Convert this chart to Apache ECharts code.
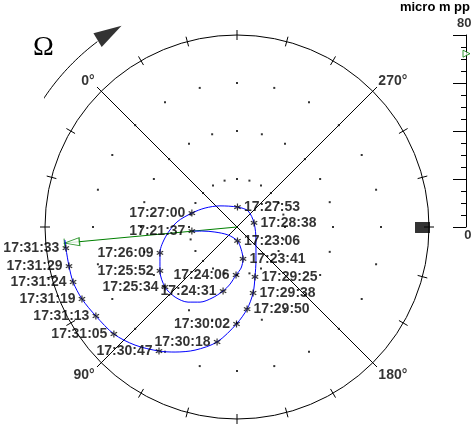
<!DOCTYPE html>
<html><head><meta charset="utf-8">
<script src="https://cdn.jsdelivr.net/npm/echarts@6/dist/echarts.min.js"></script>
<style>html,body{margin:0;padding:0;background:#fff}#c{width:476px;height:431px}</style>
</head><body><div id="c"></div>
<script>
// ---- data (micro m, centre of the orbit plot = 0,0; full scale radius = 80) ----
const orbitX = [-18.8,-14.2,-9.2,-3.8,0.2,1.7,2.5,1.7,-0.4,-2.9,-5.8,-10.4,-15.4,-20.4,-25.8,-30.0,-32.1,-32.1,-29.6,-25.0,-18.8,-13.3,-7.1,0.2,4.6,7.1,7.9,7.9,7.5,6.7,4.2,-0.2,-8.3,-17.5,-25.8,-32.5,-42.5,-51.3,-58.8,-64.6,-68.3,-70.0,-71.3,-71.7];
const orbitY = [-1.7,-1.7,-2.1,-3.3,-5.8,-9.2,-13.3,-17.1,-20.0,-23.8,-26.7,-29.6,-31.3,-31.3,-29.2,-25.0,-18.3,-10.8,-3.8,2.1,5.8,7.9,8.8,8.3,6.7,1.7,-5.4,-13.8,-20.8,-27.5,-34.2,-40.4,-47.9,-51.3,-52.1,-51.7,-49.2,-44.6,-37.1,-30.0,-22.9,-16.3,-8.8,-5.4];
const sampleTimes = ['17:21:37','17:23:06','17:23:41','17:24:06','17:24:31','17:25:34','17:25:52','17:26:09','17:27:00','17:27:53','17:28:38','17:29:25','17:29:38','17:29:50','17:30:02','17:30:18','17:30:47','17:31:05','17:31:13','17:31:19','17:31:24','17:31:29','17:31:33'];
const sampleX = [-18.8,0.2,2.5,-0.4,-5.8,-30.0,-32.1,-32.1,-18.8,0.2,7.1,7.5,6.7,4.2,-0.2,-8.3,-32.5,-51.3,-58.8,-64.6,-68.3,-70.0,-71.3];
const sampleY = [-1.7,-5.8,-13.3,-20.0,-26.7,-25.0,-18.3,-10.8,5.8,8.3,1.7,-20.8,-27.5,-34.2,-40.4,-47.9,-51.7,-44.6,-37.1,-30.0,-22.9,-16.3,-8.8];
const vectorEnd = [-71.9, -6.7];
const keyphasorPos = [77.3, -0.2];
const scaleMax = 80;
const scaleLabels = ['0', '80'];
const phaseLabels = ['0°', '90°', '180°', '270°'];
const ringRadii = [20, 40, 60];
const unitName = 'micro m pp';

// ---- helpers ----
const FONT = '"Liberation Sans", Arial, sans-serif';
const rad = d => d * Math.PI / 180;
const pol = (r, a) => [r * Math.cos(rad(a)), r * Math.sin(rad(a))];

// grid dots every 15 degrees on the rings
const dots = [];
ringRadii.forEach(r => { for (let a = 0; a < 360; a += 15) dots.push([r, a]); });

// phase cross lines (0 deg at upper left, increasing counter-clockwise)
const phaseAng = phaseLabels.map((_, i) => 135 + 90 * i);
const lineLen = 82.5;
const crossA = [pol(lineLen, phaseAng[0]), pol(lineLen, phaseAng[2])];
const crossB = [pol(lineLen, phaseAng[1]), pol(lineLen, phaseAng[3])];
const phaseLabelData = phaseLabels.map((t, i) => {
  const a = phaseAng[i];
  const c = Math.cos(rad(a)), s = Math.sin(rad(a));
  return {
    name: t, value: pol(83, a),
    label: {
      align: c < 0 ? 'right' : 'left',
      verticalAlign: s > 0 ? 'bottom' : 'top',
      position: [c < 0 ? -1 : 1, s > 0 ? 2 : 1]
    }
  };
});

// rotation arrow
const arc = [];
for (let a = 150; a >= 127; a -= 1) arc.push(pol(96.7, a));

// samples
const sampleData = sampleTimes.map((t, i) => ({
  name: t, value: [sampleX[i], sampleY[i]],
  label: { position: sampleX[i] > 0 ? 'right' : 'left' }
}));

// vector arrow
const vAng = Math.atan2(vectorEnd[1], vectorEnd[0]) * 180 / Math.PI;
const vMag = Math.hypot(vectorEnd[0], vectorEnd[1]);
const dirS = [Math.cos(rad(vAng)), -Math.sin(rad(vAng))];
const arrowLen = 15;

const starPath = 'path://M4.2,0L5.8,0L5.8,10L4.2,10Z M0.3,3.3L1.1,1.9L9.7,6.7L8.9,8.1Z M0.3,6.7L1.1,8.1L9.7,3.3L8.9,1.9Z';

const chart = echarts.init(document.getElementById('c'), null, { renderer: 'canvas' });
chart.setOption({
  animation: false,
  backgroundColor: '#fff',
  textStyle: { fontFamily: FONT },
  title: {
    text: unitName, right: 6, top: 1, padding: 0,
    textStyle: { fontFamily: FONT, fontSize: 13, fontWeight: 'bold', color: '#000' }
  },
  graphic: [{
    type: 'text', x: 43.5, y: 47.5,
    style: { text: 'Ω', font: '28px "Liberation Serif", "Times New Roman", serif', fill: '#000', align: 'center', verticalAlign: 'middle' }
  }],
  polar: [
    { center: [237, 227], radius: 192 },
    { center: [237, 227], radius: 192 }
  ],
  angleAxis: [
    { polarIndex: 0, type: 'value', min: 0, max: 360, interval: 15, startAngle: 0, clockwise: false,
      axisLine: { show: true, lineStyle: { color: '#000', width: 1 } },
      axisTick: { show: true, length: 5, lineStyle: { color: '#000', width: 1 } },
      axisLabel: { show: false }, splitLine: { show: false }, splitArea: { show: false } },
    { polarIndex: 1, type: 'value', min: 0, max: 360, interval: 15, startAngle: 0, clockwise: false,
      axisLine: { show: false },
      axisTick: { show: true, inside: true, length: 5, lineStyle: { color: '#000', width: 1 } },
      axisLabel: { show: false }, splitLine: { show: false }, splitArea: { show: false } }
  ],
  radiusAxis: [
    { polarIndex: 0, type: 'value', min: 0, max: scaleMax, show: false, splitLine: { show: false } },
    { polarIndex: 1, type: 'value', min: 0, max: scaleMax, show: false, splitLine: { show: false } }
  ],
  grid: [
    { left: 45, top: 35, width: 384, height: 384, outerBoundsMode: 'none' },
    { left: 466, top: 35, width: 6, height: 192, outerBoundsMode: 'none' }
  ],
  xAxis: [
    { gridIndex: 0, type: 'value', min: -80, max: 80, show: false },
    { gridIndex: 1, type: 'value', min: 0, max: 1, show: false }
  ],
  yAxis: [
    { gridIndex: 0, type: 'value', min: -80, max: 80, show: false },
    { gridIndex: 1, type: 'value', min: 0, max: scaleMax, interval: 20, position: 'right',
      axisLine: { show: true, lineStyle: { color: '#000', width: 1 } },
      axisTick: { show: true, inside: true, length: 13, lineStyle: { color: '#000', width: 1 } },
      minorTick: { show: true, splitNumber: 4, length: 5, lineStyle: { color: '#000', width: 1 } },
      axisLabel: { show: false }, splitLine: { show: false } }
  ],
  series: [
    { type: 'scatter', coordinateSystem: 'polar', polarIndex: 0, data: dots, symbol: 'rect', symbolSize: 2,
      itemStyle: { color: '#000' }, silent: true, z: 1 },
    { type: 'line', data: crossA, symbol: 'none', clip: false, lineStyle: { color: '#000', width: 1 }, silent: true, z: 1 },
    { type: 'line', data: crossB, symbol: 'none', clip: false, lineStyle: { color: '#000', width: 1 }, silent: true, z: 1 },
    { type: 'scatter', data: phaseLabelData, symbolSize: 1, clip: false, itemStyle: { color: 'rgba(0,0,0,0)' },
      label: { show: true, formatter: '{b}', color: '#000', fontFamily: FONT, fontSize: 14, fontWeight: 'bold' }, z: 5 },
    { type: 'line', data: arc, symbol: 'none', clip: false, lineStyle: { color: '#000', width: 1 }, silent: true },
    { type: 'scatter', data: [[-53.1, 80.9]], symbol: 'triangle', symbolSize: [16, 28], symbolRotate: -59, clip: false,
      itemStyle: { color: '#000' }, silent: true },
    { type: 'scatter', data: [keyphasorPos], symbol: 'rect', symbolSize: [15, 11], clip: false,
      itemStyle: { color: '#000' }, silent: true },
    // vector
    { type: 'line', data: [[0, 0], vectorEnd], symbol: 'none', clip: false, lineStyle: { color: '#008000', width: 1 }, silent: true, z: 3 },
    { type: 'scatter', data: [vectorEnd], symbol: 'triangle', symbolSize: [8, arrowLen], symbolRotate: vAng - 90,
      symbolOffset: [-dirS[0] * arrowLen / 2, -dirS[1] * arrowLen / 2], clip: false,
      itemStyle: { color: '#fff', borderColor: '#008000', borderWidth: 1 }, silent: true, z: 3 },
    { type: 'scatter', data: [vectorEnd], symbol: 'rect', symbolSize: [1, 9], symbolRotate: vAng - 180, clip: false,
      itemStyle: { color: '#008000' }, silent: true, z: 3 },
    // orbit
    { type: 'line', data: orbitX.map((x, i) => [x, orbitY[i]]), symbol: 'none', smooth: 0.3, clip: false,
      lineStyle: { color: '#0000ff', width: 1 }, silent: true, z: 4 },
    { type: 'scatter', data: sampleData, symbol: starPath, symbolSize: 7, clip: false,
      itemStyle: { color: '#000' },
      label: { show: true, formatter: '{b}', distance: 3, color: '#000', fontFamily: FONT, fontSize: 14, fontWeight: 'bold' },
      labelLayout: { hideOverlap: false }, z: 6 },
    // scale
    { type: 'scatter', xAxisIndex: 1, yAxisIndex: 1, data: [[1, vMag]], symbol: 'triangle', symbolSize: [7, 7], symbolRotate: -90,
      symbolOffset: [-5.5, 0], clip: false, itemStyle: { color: '#fff', borderColor: '#008000', borderWidth: 1 }, silent: true },
    { type: 'scatter', xAxisIndex: 1, yAxisIndex: 1, clip: false, symbolSize: 1, itemStyle: { color: 'rgba(0,0,0,0)' },
      data: [
        { name: scaleLabels[1], value: [1, scaleMax], label: { position: [0, -5], align: 'right', verticalAlign: 'bottom' } },
        { name: scaleLabels[0], value: [1, 0], label: { position: [0, 2], align: 'right', verticalAlign: 'top' } }
      ],
      label: { show: true, formatter: '{b}', color: '#000', fontFamily: FONT, fontSize: 13, fontWeight: 'bold' }, silent: true }
  ]
});
</script></body></html>
